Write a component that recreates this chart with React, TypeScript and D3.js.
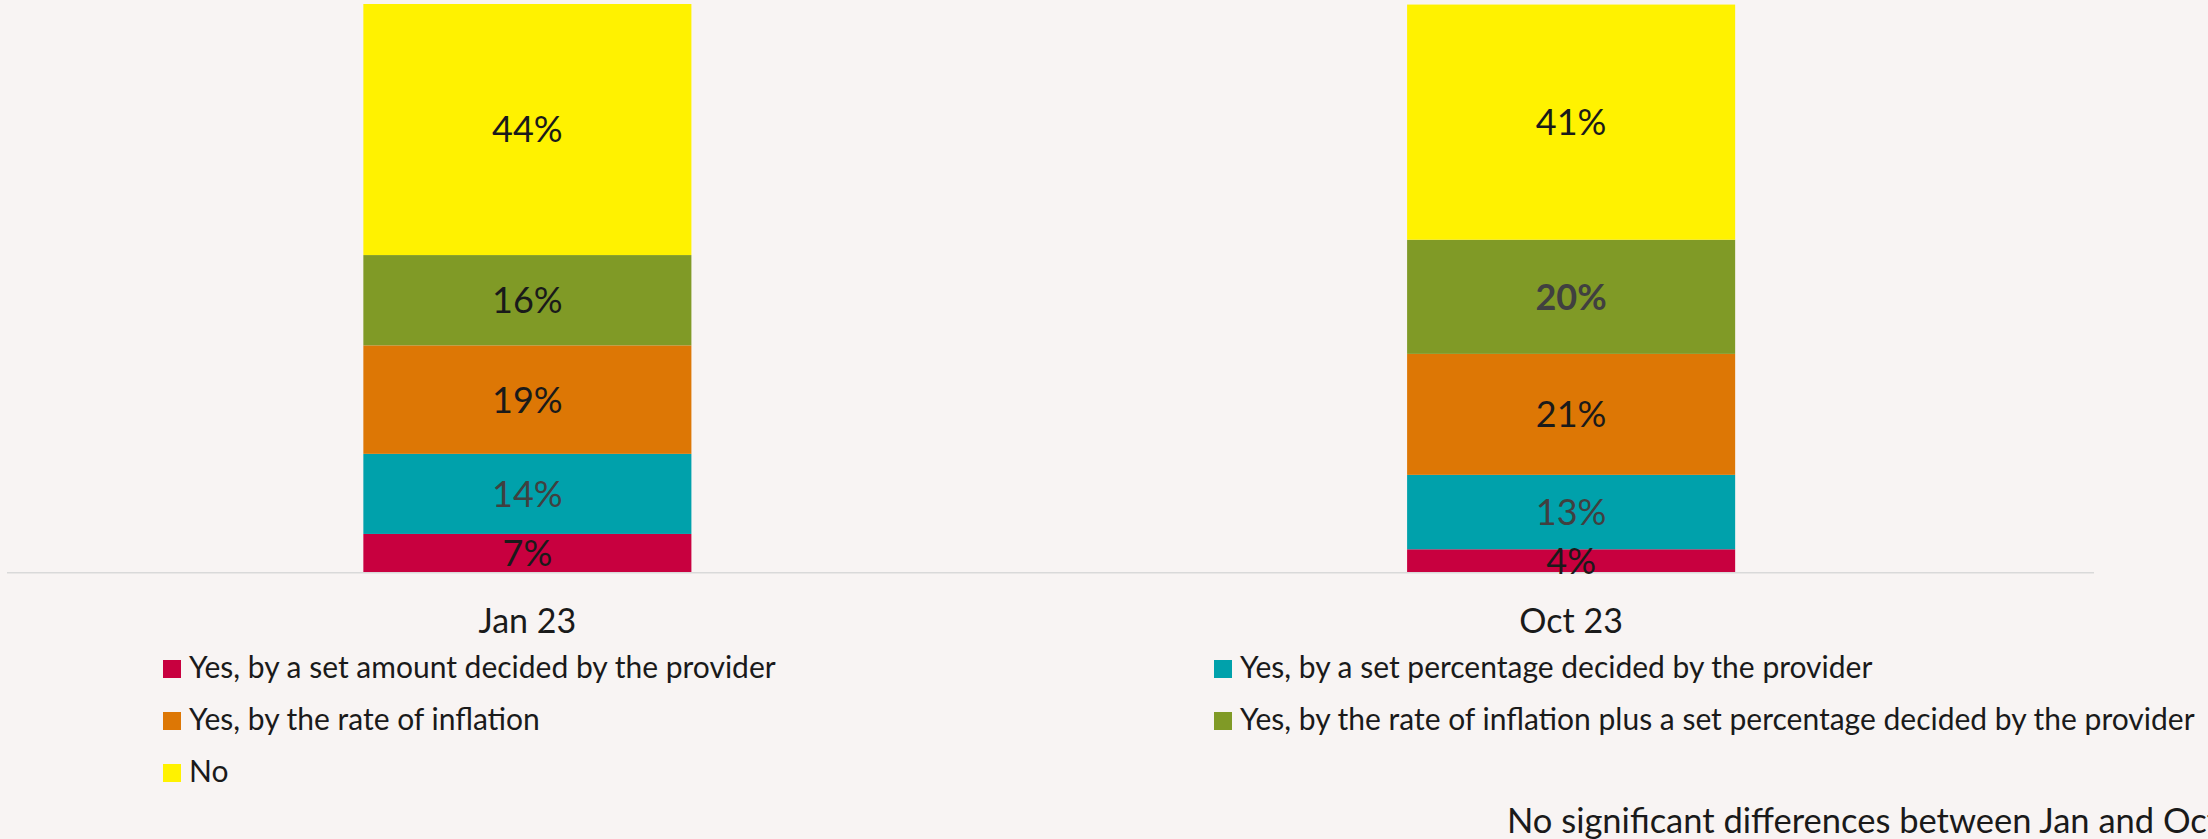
import React, { useEffect } from "react";
import * as d3 from "d3";

const categories = ["Jan 23", "Oct 23"];
const seriesNames = [
  "Yes, by a set amount decided by the provider",
  "Yes, by a set percentage decided by the provider",
  "Yes, by the rate of inflation",
  "Yes, by the rate of inflation plus a set percentage decided by the provider",
  "No",
];
const seriesColors = ["#C8003F", "#00A1AB", "#DD7705", "#809A26", "#FFF200"];
// values per category, in stacking order (bottom to top)
const jan23 = [6.7, 14.1, 19.1, 15.9, 44.2];
const oct23 = [4.0, 13.1, 21.3, 20.1, 41.4];
// label tone per cell: 0 = dark, 1 = grey, 2 = grey bold
const jan23Tone = [0, 1, 0, 0, 0];
const oct23Tone = [0, 1, 0, 2, 0];
const footnote = "No significant differences between Jan and Oct";

const W = 2208;
const H = 839;
const FONT = "Lato, 'Open Sans', sans-serif";

export default function App() {
  useEffect(() => {
    document.body.style.margin = "0";
  }, []);

  const values = [jan23, oct23];
  const tones = [jan23Tone, oct23Tone];

  const x = d3
    .scaleBand<string>()
    .domain(categories)
    .range([5.5, 2093])
    .paddingInner(0.6857)
    .paddingOuter(0.34285);
  const y = d3.scaleLinear().domain([0, 100]).range([572, 4]);

  const rows = categories.map((c, ci) => {
    const r: any = { cat: c };
    seriesNames.forEach((s, si) => (r[s] = values[ci][si]));
    return r;
  });
  const stacked = d3.stack<any>().keys(seriesNames)(rows);

  const toneColor = ["#1A1A1A", "#404040", "#404040"];

  const legendX = [163, 1214];
  const legendTextX = [189, 1240];
  const legendBase = 678;
  const legendStep = 52;

  return (
    <svg
      width={W}
      height={H}
      style={{ position: "absolute", left: 0, top: 0, display: "block" }}
      fontFamily={FONT}
    >
      <rect x={0} y={0} width={W} height={H} fill="#F8F4F3" />
      {stacked.map((layer, si) =>
        layer.map((d, ci) => {
          const cat = categories[ci];
          const x0 = x(cat)!;
          const y0 = y(d[1]);
          const y1 = y(d[0]);
          return (
            <rect
              key={`b-${si}-${ci}`}
              x={x0}
              y={y0}
              width={x.bandwidth()}
              height={y1 - y0}
              fill={seriesColors[si]}
            />
          );
        })
      )}
      <line x1={7} x2={2094} y1={572.8} y2={572.8} stroke="#D9D9D9" strokeWidth={1.5} />
      {stacked.map((layer, si) =>
        layer.map((d, ci) => {
          const cat = categories[ci];
          const cx = x(cat)! + x.bandwidth() / 2;
          const cy = (y(d[0]) + y(d[1])) / 2;
          const t = tones[ci][si];
          return (
            <text
              key={`l-${si}-${ci}`}
              x={cx}
              y={cy}
              dy="0.36em"
              textAnchor="middle"
              fontSize={36}
              fontWeight={t === 2 ? 700 : 400}
              fill={toneColor[t]}
            >
              {`${Math.round(values[ci][si])}%`}
            </text>
          );
        })
      )}
      {categories.map((c) => (
        <text
          key={`c-${c}`}
          x={x(c)! + x.bandwidth() / 2}
          y={632.7}
          textAnchor="middle"
          fontSize={34}
          fill="#1A1A1A"
        >
          {c}
        </text>
      ))}
      {seriesNames.map((s, i) => {
        const col = i % 2;
        const row = Math.floor(i / 2);
        const base = legendBase + row * legendStep;
        return (
          <g key={`lg-${i}`}>
            <rect x={legendX[col]} y={base - 18} width={18} height={18} fill={seriesColors[i]} />
            <text x={legendTextX[col]} y={base} fontSize={30} fill="#1A1A1A">
              {s}
            </text>
          </g>
        );
      })}
      <text x={1507} y={833.3} fontSize={34.5} fill="#1A1A1A">
        {footnote}
      </text>
    </svg>
  );
}
